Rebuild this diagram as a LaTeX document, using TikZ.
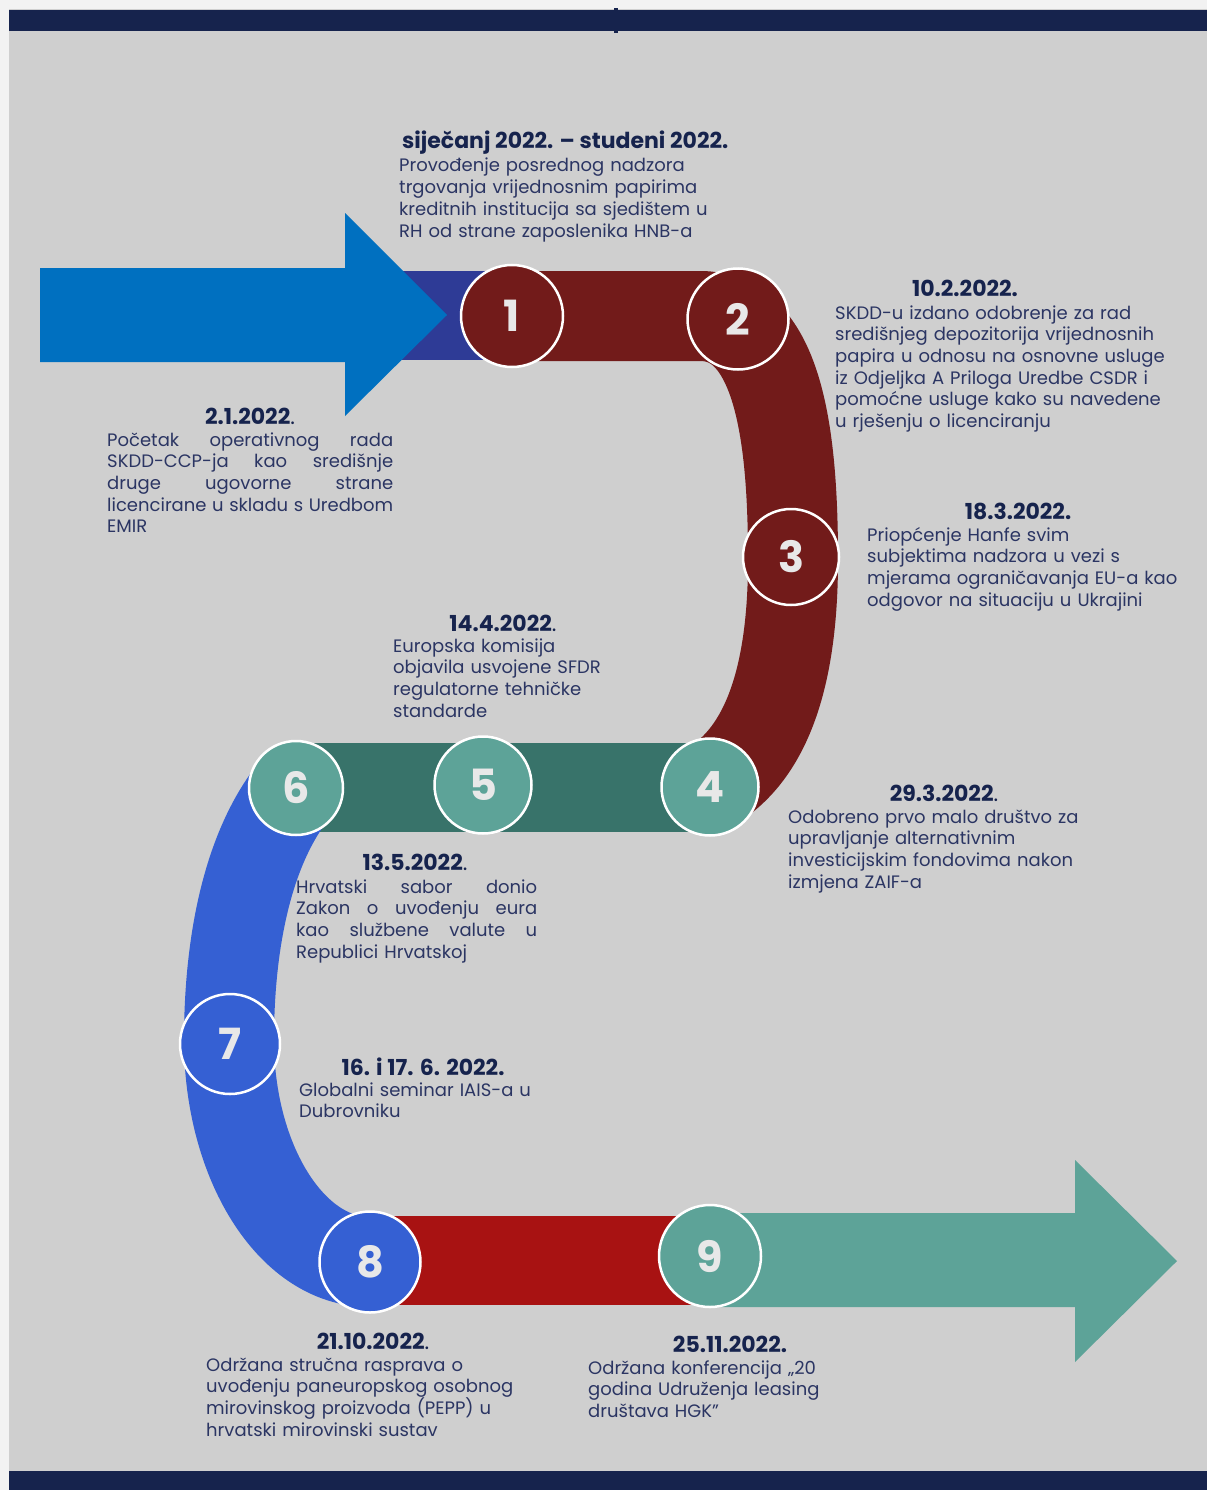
\documentclass[tikz,border=0pt]{standalone}
\usepackage{fontspec}
\setmainfont{Poppins}
\definecolor{pozadina}{HTML}{F2F2F2}
\definecolor{ploca}{HTML}{CFCFCF}
\definecolor{tamnoplava}{HTML}{16234D}
\definecolor{strelicaplava}{HTML}{0070C0}
\definecolor{indigo}{HTML}{2E3B96}
\definecolor{bordo}{HTML}{721B1A}
\definecolor{zelenotamna}{HTML}{38736A}
\definecolor{zelenosvijetla}{HTML}{5DA398}
\definecolor{plavatraka}{HTML}{3560D3}
\definecolor{crvenatraka}{HTML}{A81212}
\definecolor{brojboja}{HTML}{E8E8E8}
\definecolor{datumboja}{HTML}{16234D}
\definecolor{opisboja}{HTML}{2B3563}
\tikzset{
		traka/.style={line width=90pt},
		krug/.style={circle, draw=white, line width=2.5pt, inner sep=0pt, text=brojboja, font=\fontsize{43}{43}\selectfont\bfseries},
		datum/.style={inner sep=0pt, text=datumboja, font=\fontsize{22}{24}\selectfont\bfseries},
		opis/.style={inner sep=0pt, anchor=base west, align=left, text=opisboja, font=\fontsize{18}{21.7}\selectfont}
	}
\newcommand{\punired}[2]{\makebox[#1]{#2}}

\begin{document}
\begin{tikzpicture}[x=1pt, y=-1pt]
		\useasboundingbox (0,0) rectangle (1207,1490);
		% pozadina i okvir
		\fill[pozadina] (0,0) rectangle (1207,1490);
		\fill[ploca] (9,9) rectangle (1207,1490);
		\fill[tamnoplava] (9,10) rectangle (1207,31);
		\fill[tamnoplava] (614,8) rectangle (618,33);
		\fill[tamnoplava] (9,1471) rectangle (1207,1490);
		% ulazna strelica
		\fill[indigo] (400,271) rectangle (512,360);
		\fill[strelicaplava] (40,268) -- (345,268) -- (345,213) -- (447,315) -- (345,416) -- (345,362) -- (40,362) -- cycle;
		% trake
		\draw[traka, bordo] (512,316) -- (700,316) .. controls (780,316) and (793,440) .. (793,560) .. controls (793,680) and (765,755) .. (710,787);
		\fill[zelenotamna] (296,743) rectangle (710,832);
		\draw[traka, plavatraka] (296,788) .. controls (245,850) and (229,950) .. (229,1040) .. controls (229,1160) and (290,1262) .. (370,1262);
		\fill[crvenatraka] (370,1216) rectangle (710,1305);
		\fill[zelenosvijetla] (710,1213) -- (1075,1213) -- (1075,1160) -- (1177,1261) -- (1075,1362) -- (1075,1307) -- (710,1307) -- cycle;
		% krugovi
		\node[krug, fill=bordo, minimum size=102pt] (k1) at (512,316) {1};
		\node[krug, fill=bordo, minimum size=101pt] (k2) at (738,319) {2};
		\node[krug, fill=bordo, minimum size=96pt] (k3) at (791,557) {3};
		\node[krug, fill=zelenosvijetla, minimum size=97pt] (k4) at (710,787) {4};
		\node[krug, fill=zelenosvijetla, minimum size=97pt] (k5) at (483,785) {5};
		\node[krug, fill=zelenosvijetla, minimum size=94pt] (k6) at (296,788) {6};
		\node[krug, fill=plavatraka, minimum size=100pt] (k7) at (230,1044) {7};
		\node[krug, fill=plavatraka, minimum size=101pt] (k8) at (370,1262) {8};
		\node[krug, fill=zelenosvijetla, minimum size=102pt] (k9) at (710,1256) {9};
		% datumi
		\node[datum, anchor=west] (d1) at (402,143) {siječanj 2022. – studeni 2022.};
		\node[datum] (d0) at (250,416) {2.1.2022{\mdseries .}};
		\node[datum] (d2) at (965,288) {10.2.2022.};
		\node[datum] (d3) at (1018,511) {18.3.2022.};
		\node[datum] (d5) at (503,623) {14.4.2022{\mdseries .}};
		\node[datum] (d4) at (944,793) {29.3.2022{\mdseries .}};
		\node[datum] (d6) at (415,862) {13.5.2022{\mdseries .}};
		\node[datum] (d7) at (423,1067) {16. i 17. 6. 2022.};
		\node[datum] (d8) at (373,1341) {21.10.2022{\mdseries .}};
		\node[datum] (d9) at (730,1344) {25.11.2022.};
		% opisi
		\node[opis, text width=330pt] (o1) at (399,172) {Provođenje posrednog nadzora\\ trgovanja vrijednosnim papirima\\ kreditnih institucija sa sjedištem u\\ RH od strane zaposlenika HNB-a};
		\node[opis, text width=286pt] (o0) at (107,446) {\punired{286pt}{Početak\hfill operativnog\hfill rada}\\ \punired{286pt}{SKDD-CCP-ja\hfill kao\hfill središnje}\\ \punired{286pt}{druge\hfill ugovorne\hfill strane}\\ \punired{286pt}{licencirane\hfill u\hfill skladu\hfill s\hfill Uredbom}\\ EMIR};
		\node[opis, text width=360pt] (o2) at (835,319) {SKDD-u izdano odobrenje za rad\\ središnjeg depozitorija vrijednosnih\\ papira u odnosu na osnovne usluge\\ iz Odjeljka A Priloga Uredbe CSDR i\\ pomoćne usluge kako su navedene\\ u rješenju o licenciranju};
		\node[opis, text width=330pt] (o3) at (867,541) {Priopćenje Hanfe svim\\ subjektima nadzora u vezi s\\ mjerama ograničavanja EU-a kao\\ odgovor na situaciju u Ukrajini};
		\node[opis, text width=270pt] (o5) at (393,652) {Europska komisija\\ objavila usvojene SFDR\\ regulatorne tehničke\\ standarde};
		\node[opis, text width=330pt] (o4) at (788,823) {Odobreno prvo malo društvo za\\ upravljanje alternativnim\\ investicijskim fondovima nakon\\ izmjena ZAIF-a};
		\node[opis, text width=241pt] (o6) at (296,893) {\punired{241pt}{Hrvatski\hfill sabor\hfill donio}\\ \punired{241pt}{Zakon\hfill o\hfill uvođenju\hfill eura}\\ \punired{241pt}{kao\hfill službene\hfill valute\hfill u}\\ Republici Hrvatskoj};
		\node[opis, text width=290pt] (o7) at (299,1096) {Globalni seminar IAIS-a u\\ Dubrovniku};
		\node[opis, text width=350pt] (o8) at (206,1371) {Održana stručna rasprava o\\ uvođenju paneuropskog osobnog\\ mirovinskog proizvoda (PEPP) u\\ hrvatski mirovinski sustav};
		\node[opis, text width=310pt] (o9) at (588,1374) {Održana konferencija „20\\ godina Udruženja leasing\\ društava HGK”};
	\end{tikzpicture}
\end{document}
